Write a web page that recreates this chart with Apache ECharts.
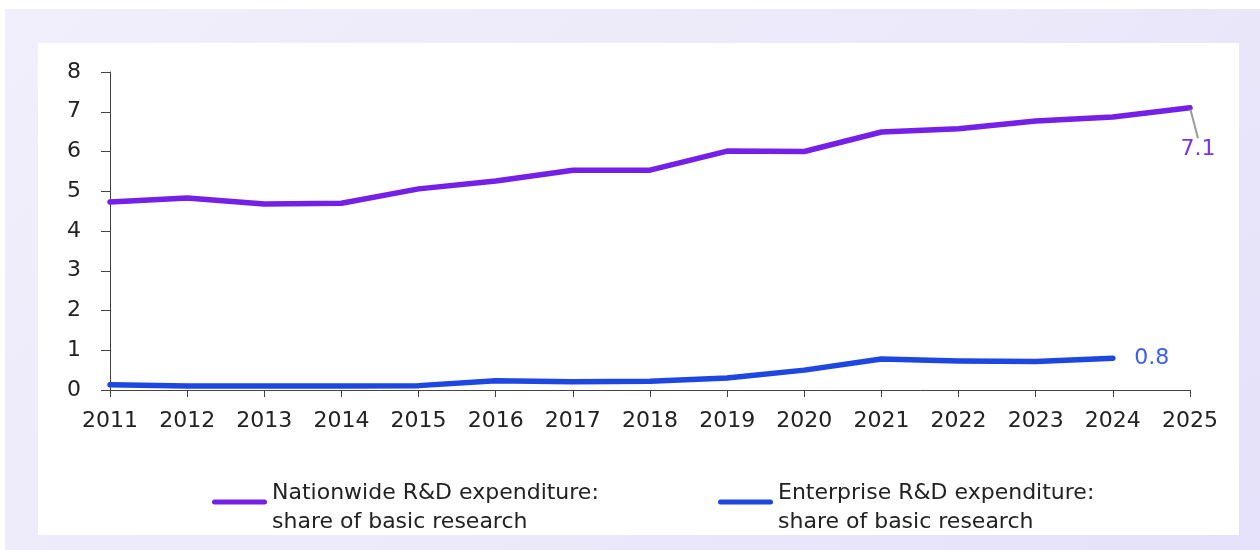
<!DOCTYPE html>
<html>
<head>
<meta charset="utf-8">
<script src="https://cdn.jsdelivr.net/npm/echarts@6/dist/echarts.min.js"></script>
<style>
  html, body { margin: 0; padding: 0; background: #ffffff; }
  #frame {
    position: absolute; left: 5px; top: 9px; width: 1255px; height: 541px;
    background: linear-gradient(135deg, #f1effb 0%, #ebe8fa 60%, #e5e1fa 100%);
  }
  #panel {
    position: absolute; left: 38px; top: 43px; width: 1201px; height: 492px;
    background: #ffffff;
  }
  #chart { position: absolute; left: 0; top: 0; width: 1260px; height: 550px; }
</style>
</head>
<body>
<div id="frame"></div>
<div id="panel"></div>
<div id="chart"></div>
<script>
// Years on the x axis
const years = ['2011','2012','2013','2014','2015','2016','2017','2018','2019','2020','2021','2022','2023','2024','2025'];

// Share of basic research in nationwide R&D expenditure (%)
const nationwide = [4.73, 4.83, 4.68, 4.70, 5.06, 5.26, 5.53, 5.53, 6.01, 6.00, 6.49, 6.57, 6.77, 6.87, 7.1];

// Share of basic research in enterprise R&D expenditure (%)
const enterprise = [0.13, 0.10, 0.10, 0.10, 0.11, 0.23, 0.21, 0.22, 0.30, 0.50, 0.78, 0.73, 0.72, 0.8];

const yTicks = [0, 1, 2, 3, 4, 5, 6, 7, 8];

const seriesNames = [
  'Nationwide R&D expenditure:\nshare of basic research',
  'Enterprise R&D expenditure:\nshare of basic research'
];

const FONT = '"DejaVu Sans", "Liberation Sans", Arial, sans-serif';
const FONT_SIZE = 22;
const PURPLE = '#7420e8';
const BLUE = '#1e46e0';

const chart = echarts.init(document.getElementById('chart'), null, { renderer: 'canvas' });

// Only the final point of each line carries a (tiny) symbol so its value label can be drawn.
function withEndLabel(values, color) {
  return values.map((v, i) => {
    if (i !== values.length - 1) return v;
    return {
      value: v,
      symbol: 'circle',
      symbolSize: 3,
      itemStyle: { color: color },
      label: { show: true, formatter: (p) => p.value.toFixed(1) }
    };
  });
}

// Pill-shaped legend stroke
const LEGEND_ICON = 'path://M2.5,0 L52.5,0 A2.5,2.5 0 0 1 52.5,5 L2.5,5 A2.5,2.5 0 0 1 2.5,0 Z';

// Two-line legend text; a short spacer line on top lowers the text relative to the stroke
function legendText(name) {
  return '{s| }\n' + name.split('\n').map((l) => '{t|' + l + '}').join('\n');
}

const legendBase = {
  orient: 'horizontal',
  padding: 0,
  itemWidth: 55,
  itemHeight: 5,
  itemGap: 0,
  icon: LEGEND_ICON,
  formatter: legendText,
  textStyle: {
    fontFamily: FONT, fontSize: FONT_SIZE, color: '#222',
    rich: {
      s: { fontSize: 4, lineHeight: 11 },
      t: { fontFamily: FONT, fontSize: FONT_SIZE, color: '#222', lineHeight: 29 }
    }
  },
  selectedMode: false
};

chart.setOption({
  backgroundColor: 'transparent',
  animation: false,
  grid: { left: 110, right: 70, top: 72, bottom: 160, containLabel: false },
  legend: [
    Object.assign({}, legendBase, { data: [seriesNames[0]], left: 212, top: 471 }),
    Object.assign({}, legendBase, { data: [seriesNames[1]], left: 718, top: 471 })
  ],
  xAxis: {
    type: 'category',
    data: years,
    boundaryGap: false,
    axisLine: { show: true, lineStyle: { color: '#444', width: 1 } },
    axisTick: { show: true, inside: false, length: 7, alignWithLabel: true, lineStyle: { color: '#444' } },
    axisLabel: { fontFamily: FONT, fontSize: FONT_SIZE, color: '#222', margin: 20, interval: 0 },
    splitLine: { show: false }
  },
  yAxis: {
    type: 'value',
    min: yTicks[0],
    max: yTicks[yTicks.length - 1],
    interval: 1,
    axisLine: { show: true, lineStyle: { color: '#444', width: 1 } },
    axisTick: { show: true, inside: false, length: 9, lineStyle: { color: '#444' } },
    axisLabel: { fontFamily: FONT, fontSize: FONT_SIZE, color: '#222', margin: 29 },
    splitLine: { show: false }
  },
  series: [
    {
      name: seriesNames[0],
      type: 'line',
      data: withEndLabel(nationwide, PURPLE),
      symbol: 'none',
      color: PURPLE,
      lineStyle: { color: PURPLE, width: 5.5, cap: 'round', join: 'round' },
      label: {
        show: false, position: 'bottom', distance: 5,
        fontFamily: FONT, fontSize: FONT_SIZE, color: '#7a34e6'
      },
      labelLayout: { dx: 8, dy: 24 },
      labelLine: { show: true, lineStyle: { color: '#9a9a9a', width: 2 } },
      z: 3
    },
    {
      name: seriesNames[1],
      type: 'line',
      data: withEndLabel(enterprise, BLUE),
      symbol: 'none',
      color: BLUE,
      lineStyle: { color: BLUE, width: 5.5, cap: 'round', join: 'round' },
      label: {
        show: false, position: 'right', distance: 20,
        fontFamily: FONT, fontSize: FONT_SIZE, color: '#3a5ff0'
      },
      z: 2
    }
  ]
});
</script>
</body>
</html>
